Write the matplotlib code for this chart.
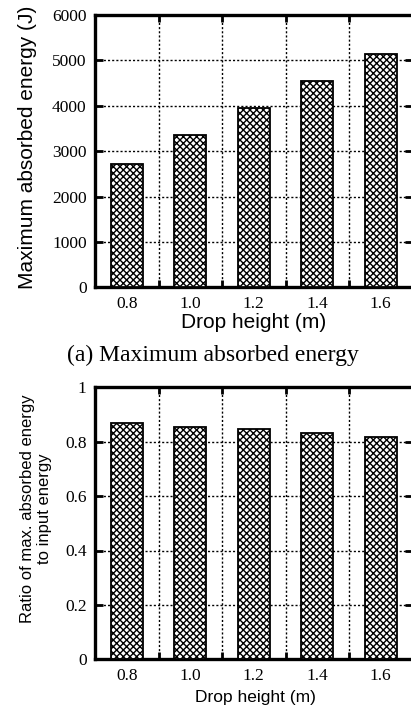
import matplotlib
matplotlib.use("Agg")
import matplotlib.pyplot as plt
import numpy as np

heights = ["0.8", "1.0", "1.2", "1.4", "1.6"]
max_energy = [2710, 3350, 3960, 4550, 5130]
energy_ratio = [0.868, 0.853, 0.846, 0.831, 0.819]

SERIF = "Liberation Serif"
SANS = "Liberation Sans"
plt.rcParams["hatch.linewidth"] = 1.0

fig = plt.figure(figsize=(4.11, 7.09), dpi=100)


def style_axes(ax, ymax, ystep, yfmt):
    x = np.arange(len(heights))
    ax.set_xlim(-0.5, len(heights) - 0.5)
    ax.set_ylim(0, ymax)
    ax.set_xticks(x)
    ax.set_xticklabels(heights, fontfamily=SERIF, fontsize=12.5)
    ax.set_xticks(x[:-1] + 0.5, minor=True)
    yt = np.arange(0, ymax + ystep / 2, ystep)
    ax.set_yticks(yt)
    ax.set_yticklabels([yfmt(v) for v in yt], fontfamily=SERIF, fontsize=12.5)
    ax.tick_params(axis="x", which="major", length=0, pad=6)
    ax.tick_params(axis="x", which="minor", direction="in", length=5, width=2,
                   top=True, bottom=True)
    ax.tick_params(axis="y", which="major", direction="in", length=6, width=2,
                   left=True, right=True, pad=6)
    ax.grid(True, axis="x", which="minor", color="black", linestyle=(0, (1.5, 1.5)), linewidth=1)
    ax.grid(True, axis="y", which="major", color="black", linestyle=(0, (1.5, 1.5)), linewidth=1)
    ax.set_axisbelow(True)
    for s in ax.spines.values():
        s.set_linewidth(2.4)


ax1 = fig.add_axes([95 / 411, 1 - 287.3 / 709, 317.5 / 411, 272.3 / 709])
ax1.bar(np.arange(len(heights)), max_energy, width=0.5, facecolor="white",
        edgecolor="black", linewidth=1.3, hatch="xxxxx", zorder=3)
style_axes(ax1, 6000, 1000, lambda v: "%d" % v)
ax1.set_xlabel("Drop height (m)", fontfamily=SANS, fontsize=15, va="center")
ax1.xaxis.set_label_coords(0.5, -0.131)
ax1.set_ylabel("Maximum absorbed energy (J)", fontfamily=SANS, fontsize=15, va="center")
ax1.yaxis.set_label_coords(-0.214, 0.513)

fig.text(213 / 411, 1 - 355 / 709, "(a) Maximum absorbed energy", fontfamily=SERIF,
         fontsize=17, ha="center", va="center")

ax2 = fig.add_axes([95 / 411, 1 - 659.3 / 709, 317.5 / 411, 272 / 709])
ax2.bar(np.arange(len(heights)), energy_ratio, width=0.5, facecolor="white",
        edgecolor="black", linewidth=1.3, hatch="xxxxx", zorder=3)
style_axes(ax2, 1.0, 0.2, lambda v: "0" if v == 0 else ("1" if v == 1 else "%.1f" % v))
ax2.set_xlabel("Drop height (m)", fontfamily=SANS, fontsize=12.5, va="center")
ax2.xaxis.set_label_coords(0.505, -0.142)
ax2.set_ylabel("Ratio of max. absorbed energy\nto input energy", fontfamily=SANS,
               fontsize=12, va="center", linespacing=1.15)
ax2.yaxis.set_label_coords(-0.187, 0.553)

fig.savefig("out.png", dpi=100)
